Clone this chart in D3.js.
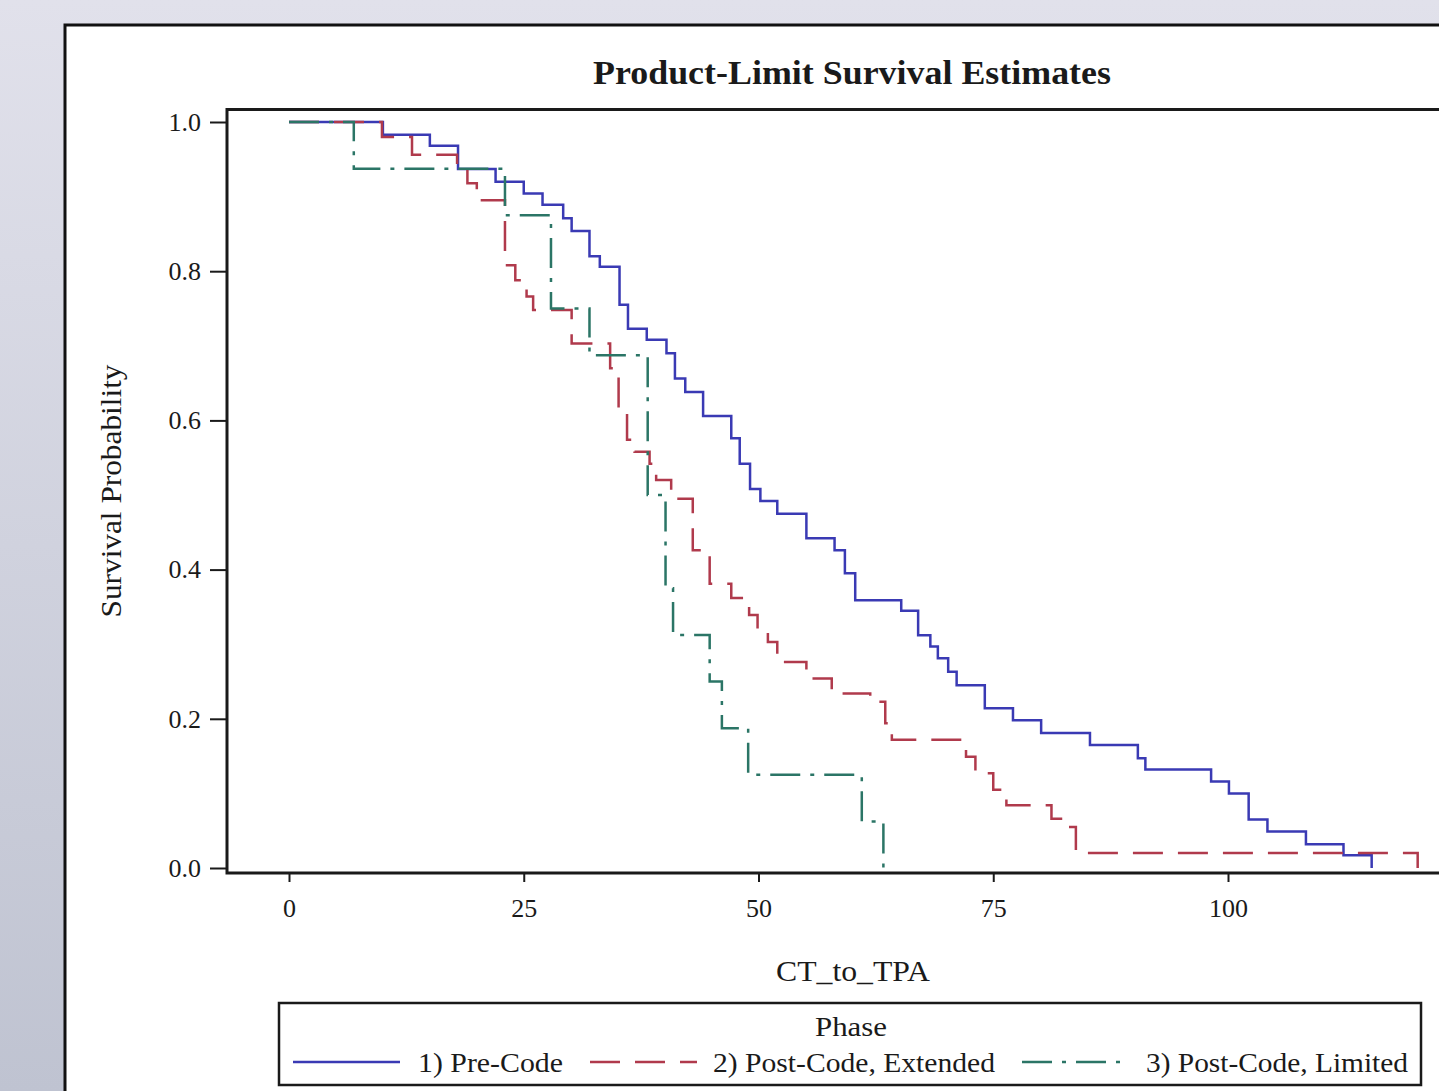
<!DOCTYPE html>
<html>
<head>
<meta charset="utf-8">
<script src="https://cdn.jsdelivr.net/npm/d3@7"></script>
<style>
  html, body { margin: 0; padding: 0; overflow: hidden; }
  svg { display: block; }
  text { font-family: "Liberation Serif", "Times New Roman", serif; fill: #1a1a1a; }
</style>
</head>
<body>
<script>
// Kaplan-Meier estimates per phase: event times and survival after each drop
var preCodeTimes = [0, 10, 15, 18, 22, 25, 27, 29.2, 30.1, 32, 33.1, 35.2, 36.1, 38.1, 40.2, 41.1, 42.2, 44.1, 47.1, 48, 49.1, 50.2, 52, 55.1, 58.1, 59.2, 60.3, 65.2, 67, 68.3, 69.1, 70.2, 71.1, 74.1, 77.1, 80.1, 85.3, 90.4, 91.2, 98.2, 100.1, 102.2, 104.2, 108.3, 112.3, 115.3];
var preCodeSurv  = [1, 0.983, 0.968, 0.937, 0.92, 0.904, 0.889, 0.871, 0.854, 0.82, 0.806, 0.755, 0.723, 0.708, 0.69, 0.656, 0.638, 0.606, 0.576, 0.542, 0.508, 0.492, 0.475, 0.442, 0.426, 0.395, 0.359, 0.345, 0.312, 0.297, 0.281, 0.263, 0.245, 0.214, 0.198, 0.181, 0.165, 0.147, 0.132, 0.116, 0.1, 0.065, 0.049, 0.032, 0.017, 0];

var extendedTimes = [0, 9.9, 13.1, 17.9, 19, 20, 23, 24.1, 25.3, 26, 30.1, 34.2, 35.1, 36, 36.8, 38.4, 39.1, 40.7, 43, 44.8, 47.1, 49, 49.9, 51, 52, 55.1, 57.8, 61.9, 63.5, 64.2, 72.1, 73.1, 75, 76.4, 81.2, 83.2, 83.8, 120.2];
var extendedSurv  = [1, 0.98, 0.956, 0.938, 0.918, 0.895, 0.808, 0.788, 0.766, 0.748, 0.703, 0.67, 0.614, 0.574, 0.558, 0.542, 0.52, 0.495, 0.426, 0.381, 0.362, 0.339, 0.319, 0.303, 0.276, 0.254, 0.234, 0.223, 0.194, 0.172, 0.149, 0.127, 0.105, 0.084, 0.066, 0.055, 0.02, 0];

var limitedTimes = [0, 6.9, 23, 27.9, 32, 38.2, 40.1, 40.9, 44.8, 46.1, 48.9, 61, 63.3];
var limitedSurv  = [1, 0.9375, 0.875, 0.75, 0.6875, 0.5, 0.375, 0.3125, 0.25, 0.1875, 0.125, 0.0625, 0];

var phaseLabels = ["1) Pre-Code", "2) Post-Code, Extended", "3) Post-Code, Limited"];
var xTicks = [0, 25, 50, 75, 100];
var yTicks = [0, 0.2, 0.4, 0.6, 0.8, 1.0];

var W = 1439, H = 1091;
var colors = ["#3a3ab4", "#b03a4c", "#2b7566"];
var dashes = [null, "30,15", "30,10,4,10"];

var svg = d3.select("body").append("svg")
    .attr("width", W)
    .attr("height", H);

// gray backdrop
var grad = svg.append("defs").append("linearGradient")
    .attr("id", "bg").attr("x1", 0).attr("y1", 0).attr("x2", 0).attr("y2", 1);
grad.append("stop").attr("offset", "0%").attr("stop-color", "#e1e1eb");
grad.append("stop").attr("offset", "100%").attr("stop-color", "#bfc3d1");
svg.append("rect").attr("width", W).attr("height", H).attr("fill", "url(#bg)");

// white panel, runs off the right and bottom edges
svg.append("rect")
    .attr("x", 65).attr("y", 25)
    .attr("width", W).attr("height", H)
    .attr("fill", "#fff")
    .attr("stroke", "#111").attr("stroke-width", 3);

var x = d3.scaleLinear().domain([0, 100]).range([289, 1228]);
var y = d3.scaleLinear().domain([0, 1]).range([868, 122]);

var frame = {left: 227, top: 109.5, bottom: 873};

svg.append("text")
    .attr("x", 852).attr("y", 84)
    .attr("text-anchor", "middle")
    .attr("font-size", 34).attr("font-weight", "bold")
    .attr("textLength", 518).attr("lengthAdjust", "spacingAndGlyphs")
    .text("Product-Limit Survival Estimates");

// axes
var yAxis = svg.append("g")
    .attr("transform", "translate(" + frame.left + ",0)")
    .call(d3.axisLeft(y).tickValues(yTicks).tickFormat(d3.format(".1f")).tickSize(17).tickPadding(9));
var xAxis = svg.append("g")
    .attr("transform", "translate(0," + frame.bottom + ")")
    .call(d3.axisBottom(x).tickValues(xTicks).tickSize(9).tickPadding(17));

[yAxis, xAxis].forEach(function(g) {
  g.select(".domain").remove();
  g.selectAll("line").attr("stroke", "#1a1a1a").attr("stroke-width", 2);
  g.selectAll("text")
      .attr("font-family", "Liberation Serif, Times New Roman, serif")
      .attr("font-size", 26)
      .attr("fill", "#1a1a1a");
});

// step curves
var step = d3.line()
    .x(function(d) { return x(d[0]); })
    .y(function(d) { return y(d[1]); })
    .curve(d3.curveStepAfter);

var series = [
  d3.zip(preCodeTimes, preCodeSurv),
  d3.zip(extendedTimes, extendedSurv),
  d3.zip(limitedTimes, limitedSurv)
];

svg.selectAll(".km")
    .data(series)
  .enter().append("path")
    .attr("class", "km")
    .attr("d", step)
    .attr("fill", "none")
    .attr("stroke", function(d, i) { return colors[i]; })
    .attr("stroke-width", 2.5)
    .attr("stroke-dasharray", function(d, i) { return dashes[i]; });

// plot frame
svg.append("path")
    .attr("d", "M" + (W + 20) + "," + frame.top + "H" + frame.left + "V" + frame.bottom + "H" + (W + 20))
    .attr("fill", "none")
    .attr("stroke", "#1a1a1a")
    .attr("stroke-width", 3);

svg.append("text")
    .attr("x", 853).attr("y", 981)
    .attr("text-anchor", "middle")
    .attr("font-size", 29)
    .attr("textLength", 154).attr("lengthAdjust", "spacingAndGlyphs")
    .text("CT_to_TPA");

svg.append("text")
    .attr("transform", "translate(121,491) rotate(-90)")
    .attr("text-anchor", "middle")
    .attr("font-size", 29)
    .attr("textLength", 253).attr("lengthAdjust", "spacingAndGlyphs")
    .text("Survival Probability");

// legend
var legend = svg.append("g");
legend.append("rect")
    .attr("x", 279).attr("y", 1003)
    .attr("width", 1142).attr("height", 82)
    .attr("fill", "#fff")
    .attr("stroke", "#1a1a1a").attr("stroke-width", 2.5);
legend.append("text")
    .attr("x", 851).attr("y", 1036)
    .attr("text-anchor", "middle")
    .attr("font-size", 28)
    .attr("textLength", 72).attr("lengthAdjust", "spacingAndGlyphs")
    .text("Phase");

var legendItems = [
  {line: [293, 400], text: 418, len: 145},
  {line: [590, 697], text: 713, len: 282},
  {line: [1022, 1130], text: 1146, len: 262}
];
legendItems.forEach(function(it, i) {
  legend.append("line")
      .attr("x1", it.line[0]).attr("x2", it.line[1])
      .attr("y1", 1062).attr("y2", 1062)
      .attr("stroke", colors[i]).attr("stroke-width", 2.5)
      .attr("stroke-dasharray", dashes[i]);
  legend.append("text")
      .attr("x", it.text).attr("y", 1072)
      .attr("font-size", 28)
      .attr("textLength", it.len).attr("lengthAdjust", "spacingAndGlyphs")
      .text(phaseLabels[i]);
});
</script>
</body>
</html>
